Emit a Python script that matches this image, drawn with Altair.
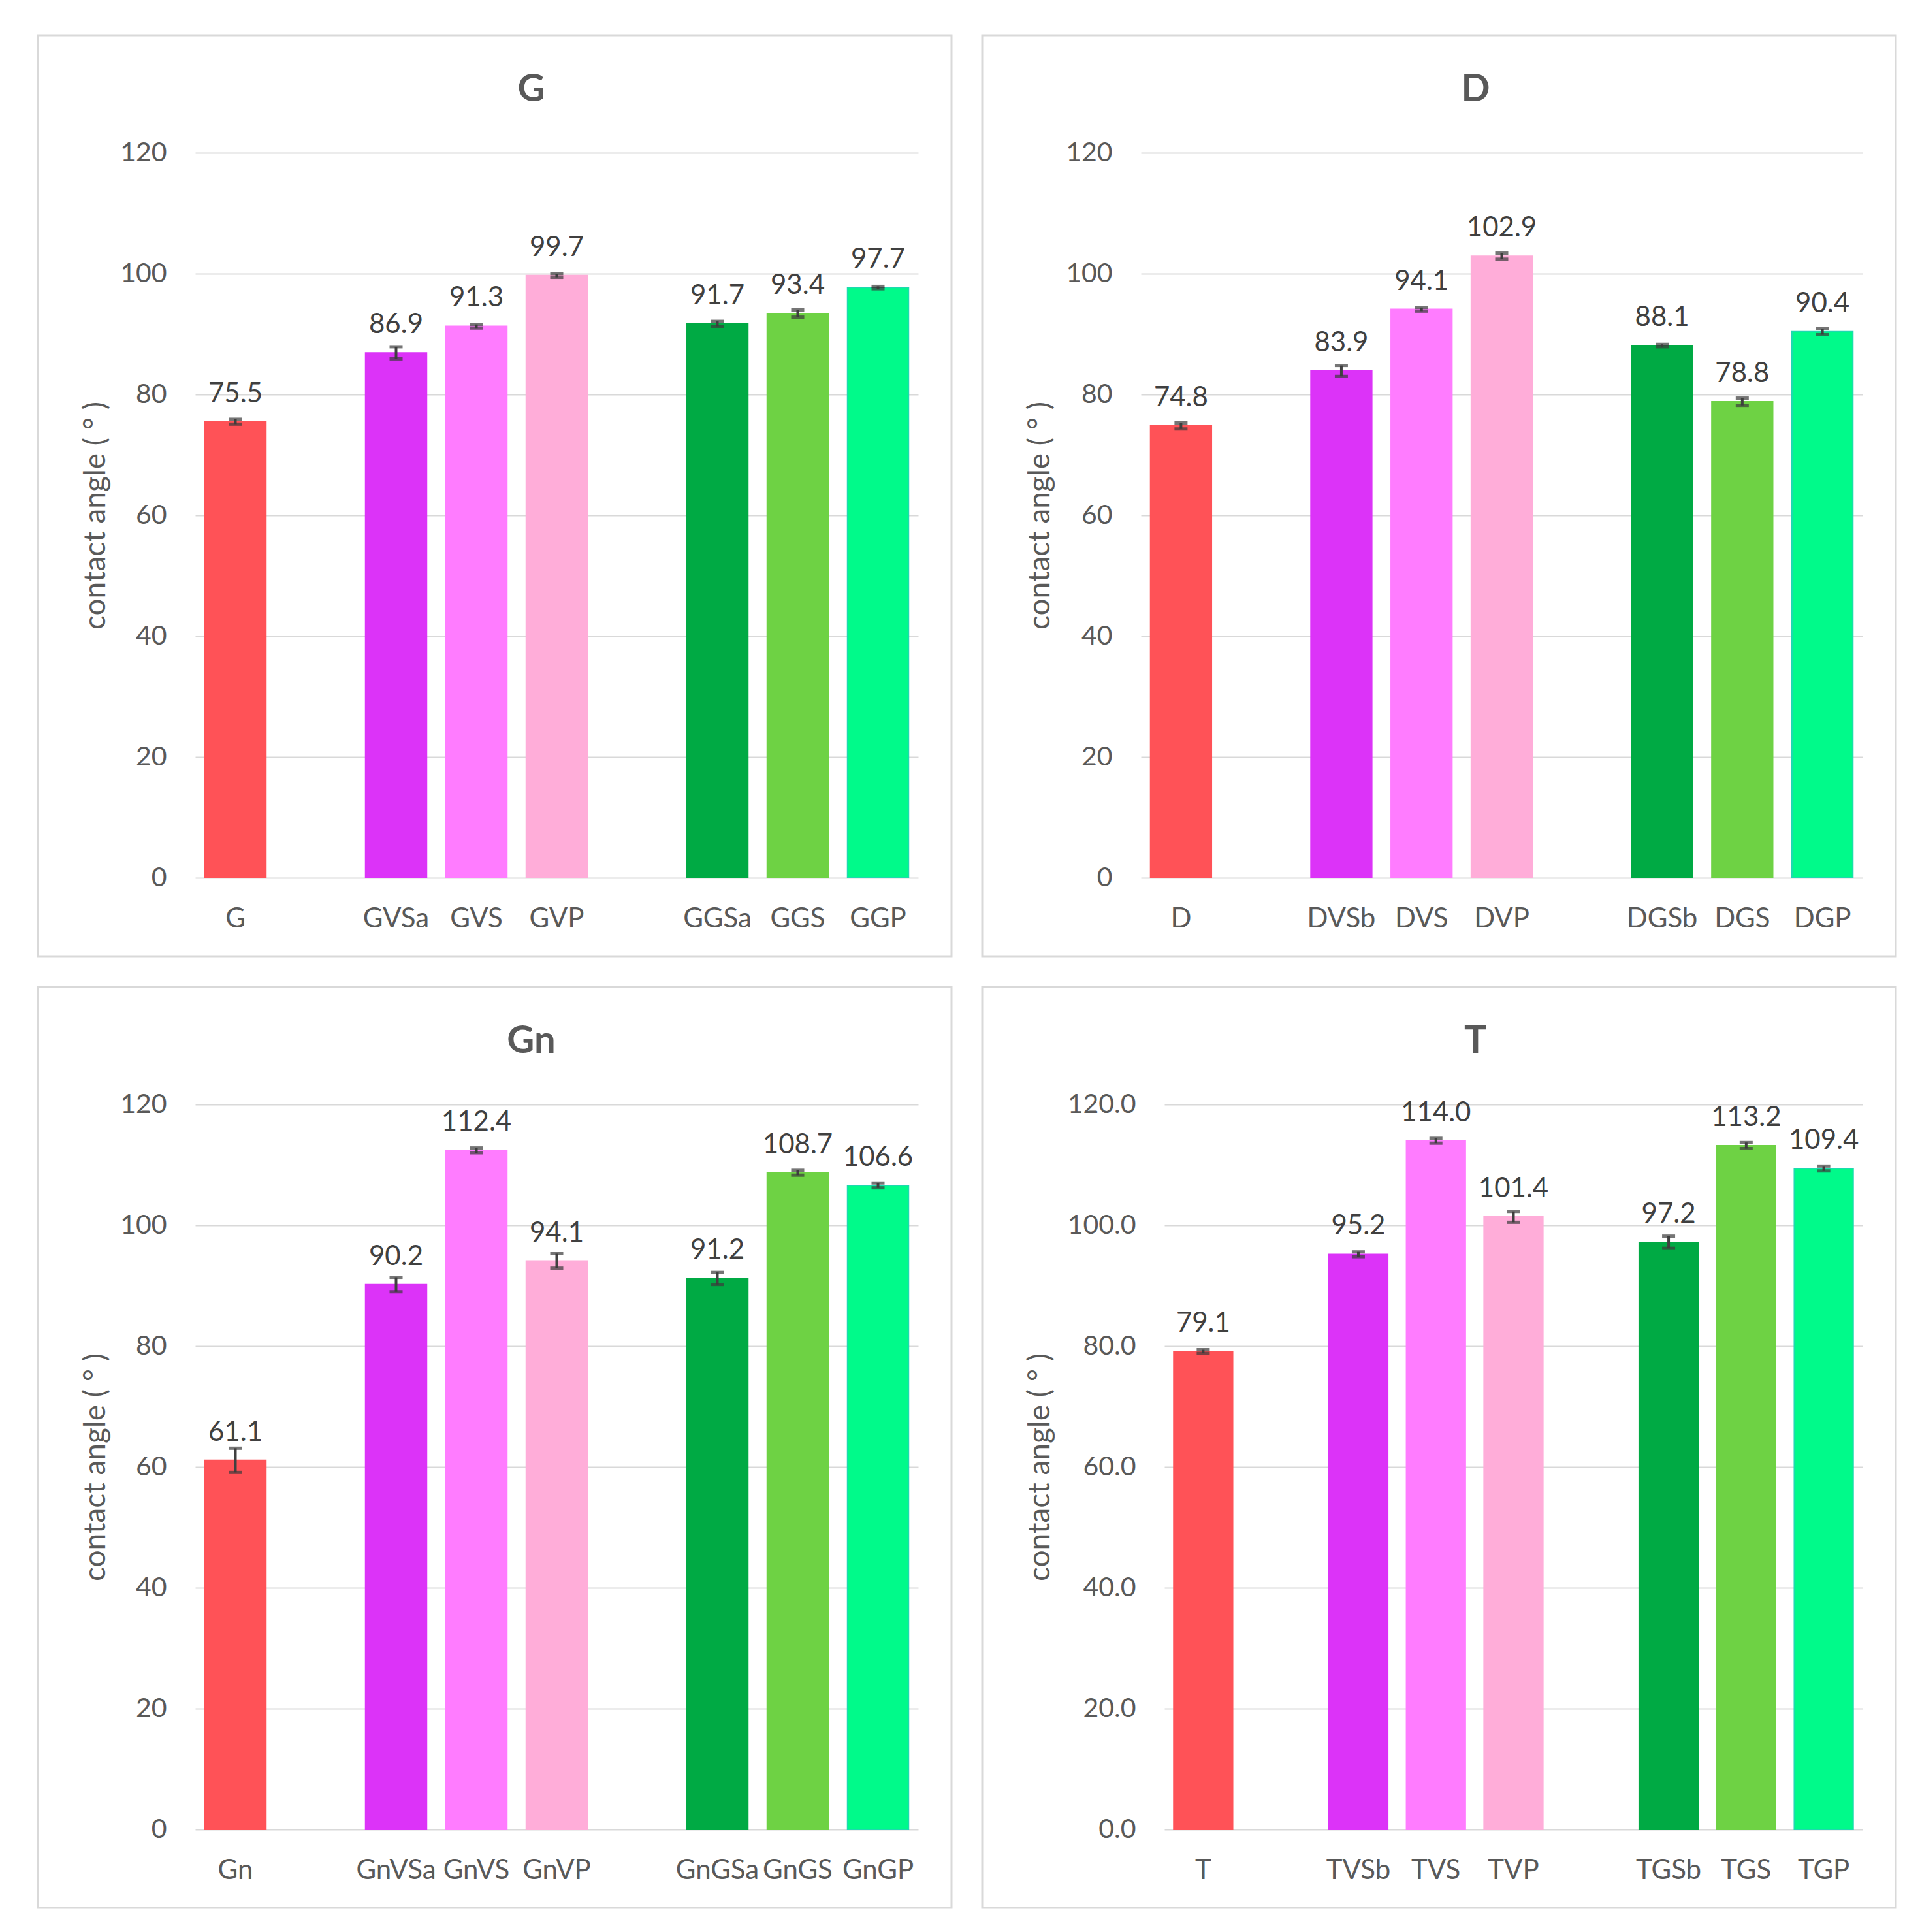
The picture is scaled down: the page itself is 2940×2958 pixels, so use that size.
import altair as alt
import pandas as pd

panel_names = ["G", "D", "Gn", "T"]

cats_G = ["G", "GVSa", "GVS", "GVP", "GGSa", "GGS", "GGP"]
vals_G = [75.5, 86.9, 91.3, 99.7, 91.7, 93.4, 97.7]
err_G = [0.4, 1.0, 0.3, 0.3, 0.4, 0.6, 0.2]

cats_D = ["D", "DVSb", "DVS", "DVP", "DGSb", "DGS", "DGP"]
vals_D = [74.8, 83.9, 94.1, 102.9, 88.1, 78.8, 90.4]
err_D = [0.5, 0.9, 0.3, 0.5, 0.2, 0.6, 0.5]

cats_Gn = ["Gn", "GnVSa", "GnVS", "GnVP", "GnGSa", "GnGS", "GnGP"]
vals_Gn = [61.1, 90.2, 112.4, 94.1, 91.2, 108.7, 106.6]
err_Gn = [2.0, 1.2, 0.4, 1.2, 1.0, 0.4, 0.4]

cats_T = ["T", "TVSb", "TVS", "TVP", "TGSb", "TGS", "TGP"]
vals_T = [79.1, 95.2, 114.0, 101.4, 97.2, 113.2, 109.4]
err_T = [0.3, 0.4, 0.4, 0.9, 1.0, 0.5, 0.4]

bar_colors = ["#FF5257", "#DC33F8", "#FF7CFF", "#FFADD9", "#00AA44", "#6ED244", "#00FA8A"]
bar_strokes = ["#FF5257", "#DC33F8", "#FF7CFF", "#FFADD9", "#00AA44", "#6ED244", "#1ED9B0"]

y_ticks = [0, 20, 40, 60, 80, 100, 120]

PANEL_W = 1399
RIGHT = 51
H = 1110
FONT = "Lato"
GRAY = "#595959"


def panel(name, cats, vals, errs, yfmt, left):
    W = PANEL_W - left - RIGHT
    df = pd.DataFrame({
        "cat": cats,
        "val": vals,
        "lo": [v - e for v, e in zip(vals, errs)],
        "hi": [v + e for v, e in zip(vals, errs)],
    })
    domain = [cats[0], " ", cats[1], cats[2], cats[3], "  ", cats[4], cats[5], cats[6]]
    xscale = alt.Scale(domain=domain, paddingInner=0.24, paddingOuter=0.12)
    xenc = alt.X(
        "cat:N",
        scale=xscale,
        axis=alt.Axis(title=None, labelAngle=0, labelFontSize=42, labelColor=GRAY,
                      labelFont=FONT, labelPadding=42, ticks=False, tickSize=0,
                      domain=False, grid=False),
    )
    yscale = alt.Scale(domain=[0, 120], nice=False)
    base = alt.Chart(df)
    bars = base.mark_bar(strokeWidth=2).encode(
        x=xenc,
        y=alt.Y("val:Q", scale=yscale,
                axis=alt.Axis(values=y_ticks, format=yfmt, title="contact angle ( ° )",
                              titleFontSize=46, titleFont=FONT, titleColor=GRAY,
                              titleFontWeight="normal", titleX=-left + 88, titleY=H / 2,
                              titleAngle=-90, titleBaseline="middle", titleAlign="center",
                              labelFontSize=41, labelFont=FONT, labelColor=GRAY,
                              labelPadding=44, ticks=False, tickSize=0, domain=False,
                              grid=True, gridColor="#D9D9D9", gridWidth=2)),
        color=alt.Color("cat:N", scale=alt.Scale(domain=cats, range=bar_colors), legend=None),
        stroke=alt.Stroke("cat:N", scale=alt.Scale(domain=cats, range=bar_strokes), legend=None),
    )
    rule = base.mark_rule(color="#404040", strokeWidth=4).encode(
        x=alt.X("cat:N", scale=xscale),
        y=alt.Y("lo:Q", scale=yscale),
        y2="hi:Q",
    )
    cap_lo = base.mark_tick(color="#3A3A3A", size=20, thickness=5).encode(
        x=alt.X("cat:N"), y=alt.Y("lo:Q", scale=yscale))
    cap_hi = base.mark_tick(color="#3A3A3A", size=20, thickness=5).encode(
        x=alt.X("cat:N"), y=alt.Y("hi:Q", scale=yscale))
    labels = base.mark_text(fontSize=42, font=FONT, color="#404040", baseline="alphabetic",
                            dy=-30).encode(
        x=alt.X("cat:N"), y=alt.Y("val:Q", scale=yscale),
        text=alt.Text("val:Q", format=".1f"))
    tdf = pd.DataFrame({"t": [name]})
    title = alt.Chart(tdf).mark_text(fontSize=58, font=FONT, fontWeight="bold", color=GRAY,
                                     align="center", baseline="middle").encode(
        x=alt.value(PANEL_W / 2 + 56 - left), y=alt.value(-96), text="t:N")
    border = alt.Chart(tdf).mark_rect(fillOpacity=0, stroke="#D9D9D9", strokeWidth=3).encode(
        x=alt.value(-left), x2=alt.value(W + RIGHT), y=alt.value(-180), y2=alt.value(H + 120))
    return alt.layer(border, bars, rule, cap_lo, cap_hi, labels, title).properties(
        width=W, height=H)


pG = panel(panel_names[0], cats_G, vals_G, err_G, "d", 241)
pD = panel(panel_names[1], cats_D, vals_D, err_D, "d", 243)
pGn = panel(panel_names[2], cats_Gn, vals_Gn, err_Gn, "d", 241)
pT = panel(panel_names[3], cats_T, vals_T, err_T, ".1f", 279)

chart = alt.vconcat(
    alt.hconcat(pG, pD, spacing=43),
    alt.hconcat(pGn, pT, spacing=43),
    spacing=43,
).properties(
    padding={"left": 48, "top": 44, "right": 10, "bottom": 10},
    background="white",
).configure_view(stroke=None)

chart.save("out.html", embed_options={"renderer": "svg", "actions": False})
